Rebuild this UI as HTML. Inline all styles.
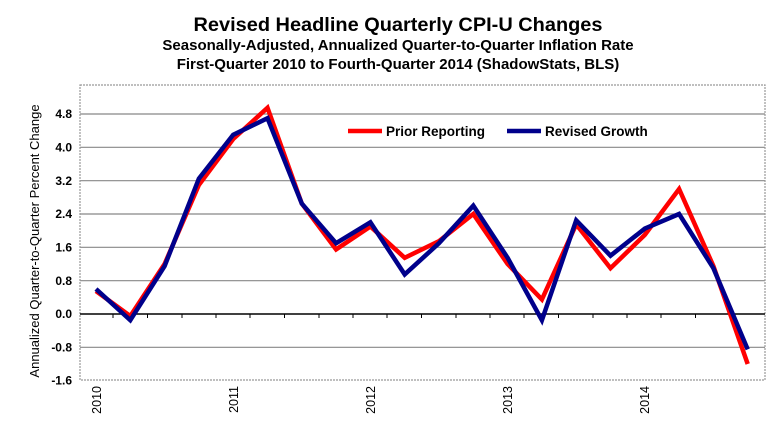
<!DOCTYPE html>
<html><head><style>body{margin:0;background:#fff}svg{display:block}</style></head><body>
<svg width="781" height="442" xmlns="http://www.w3.org/2000/svg" font-family="Liberation Sans, Arial, sans-serif" font-weight="bold">
<rect width="781" height="442" fill="#fff"/>
<text x="398" y="31" font-size="19" text-anchor="middle" textLength="409" lengthAdjust="spacingAndGlyphs">Revised Headline Quarterly CPI-U Changes</text>
<text x="398" y="50" font-size="15" text-anchor="middle">Seasonally-Adjusted, Annualized Quarter-to-Quarter Inflation Rate</text>
<text x="398" y="69" font-size="15" text-anchor="middle">First-Quarter 2010 to Fourth-Quarter 2014 (ShadowStats, BLS)</text>
<g stroke="#888" stroke-width="1.2">
<line x1="80" x2="765" y1="114" y2="114"/><line x1="80" x2="765" y1="147.3" y2="147.3"/>
<line x1="80" x2="765" y1="180.7" y2="180.7"/><line x1="80" x2="765" y1="214" y2="214"/>
<line x1="80" x2="765" y1="247.3" y2="247.3"/><line x1="80" x2="765" y1="280.7" y2="280.7"/>
<line x1="80" x2="765" y1="347.3" y2="347.3"/>
</g>
<rect x="80" y="85" width="685" height="295" fill="none" stroke="#999" stroke-width="1.2" stroke-dasharray="2,1"/>
<line x1="80" x2="765" y1="314" y2="314" stroke="#000" stroke-width="1.5"/>
<g stroke="#000" stroke-width="1">
<line x1="113" x2="113" y1="314" y2="318"/><line x1="147.5" x2="147.5" y1="314" y2="318"/><line x1="182" x2="182" y1="314" y2="318"/><line x1="216" x2="216" y1="314" y2="318"/><line x1="250" x2="250" y1="314" y2="318"/><line x1="284.5" x2="284.5" y1="314" y2="318"/><line x1="319" x2="319" y1="314" y2="318"/><line x1="353" x2="353" y1="314" y2="318"/><line x1="387" x2="387" y1="314" y2="318"/><line x1="421.5" x2="421.5" y1="314" y2="318"/><line x1="456" x2="456" y1="314" y2="318"/><line x1="490" x2="490" y1="314" y2="318"/><line x1="524" x2="524" y1="314" y2="318"/><line x1="558.5" x2="558.5" y1="314" y2="318"/><line x1="593" x2="593" y1="314" y2="318"/><line x1="627" x2="627" y1="314" y2="318"/><line x1="661" x2="661" y1="314" y2="318"/><line x1="695.5" x2="695.5" y1="314" y2="318"/><line x1="730" x2="730" y1="314" y2="318"/>
</g>
<g font-size="12" text-anchor="end">
<text x="72" y="118">4.8</text><text x="72" y="151.5">4.0</text><text x="72" y="185">3.2</text><text x="72" y="218">2.4</text><text x="72" y="251.5">1.6</text><text x="72" y="285">0.8</text><text x="72" y="318">0.0</text><text x="72" y="351.5">-0.8</text><text x="72" y="384.5">-1.6</text>
</g>
<text transform="translate(39,241) rotate(-90)" font-size="13" font-weight="normal" text-anchor="middle">Annualized  Quarter-to-Quarter Percent Change</text>
<g font-size="12.5" text-anchor="end" font-weight="normal">
<text transform="translate(101,386) rotate(-90)">2010</text>
<text transform="translate(238,386) rotate(-90)">2011</text>
<text transform="translate(375,386) rotate(-90)">2012</text>
<text transform="translate(512,386) rotate(-90)">2013</text>
<text transform="translate(649,386) rotate(-90)">2014</text>
</g>
<polyline fill="none" stroke="#ff0000" stroke-width="4.5" points="96,291.1 130.3,316.1 164.6,264 198.9,184.9 233.2,139 267.5,107.8 301.8,203.6 336.1,249.4 370.4,226.5 404.7,257.8 439,241.1 473.3,214 507.6,264 541.9,299.4 576.2,224.4 610.5,268.2 644.8,234.9 679.1,189 713.4,266.1 747.7,364"/>
<polyline fill="none" stroke="#00008b" stroke-width="4.5" points="96,289 130.3,320.2 164.6,266.1 198.9,178.6 233.2,134.8 267.5,118.2 301.8,203.6 336.1,243.2 370.4,222.3 404.7,274.4 439,243.2 473.3,205.7 507.6,257.8 541.9,320.2 576.2,220.3 610.5,255.7 644.8,228.6 679.1,214 713.4,268.2 747.7,349.4"/>
<line x1="348" x2="382" y1="131" y2="131" stroke="#ff0000" stroke-width="4.5"/>
<text x="386" y="136" font-size="13.5">Prior Reporting</text>
<line x1="507" x2="541" y1="131" y2="131" stroke="#00008b" stroke-width="4.5"/>
<text x="545" y="136" font-size="13.5">Revised Growth</text>
</svg>
</body></html>
